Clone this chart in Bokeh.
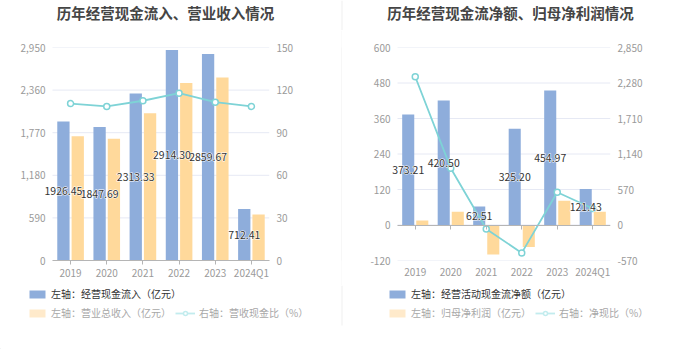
from bokeh.plotting import figure
from bokeh.models import (ColumnDataSource, Range1d, LinearAxis, FixedTicker,
                          NumeralTickFormatter, Label, Legend, LegendItem, BoxAnnotation)
from bokeh.layouts import row, column
from bokeh.transform import dodge
from bokeh.core.properties import value
from bokeh.embed import file_html
from bokeh.resources import INLINE

# ---------------- data ----------------
categories = ["2019", "2020", "2021", "2022", "2023", "2024Q1"]

# chart 1
title1 = "历年经营现金流入、营业收入情况"
names1 = ["左轴：经营现金流入（亿元）", "左轴：营业总收入（亿元）", "右轴：营收现金比（%）"]
cash_inflow = [1926.45, 1847.69, 2313.33, 2914.30, 2859.67, 712.41]
total_revenue = [1721, 1685, 2040, 2460, 2535, 637]
cash_revenue_ratio = [110.5, 108.5, 112.5, 117.8, 111.5, 108.5]
c1_left_ticks = [0, 590, 1180, 1770, 2360, 2950]
c1_right_ticks = [0, 30, 60, 90, 120, 150]

# chart 2
title2 = "历年经营现金流净额、归母净利润情况"
names2 = ["左轴：经营活动现金流净额（亿元）", "左轴：归母净利润（亿元）", "右轴：净现比（%）"]
op_cash_net = [373.21, 420.50, 62.51, 325.20, 454.97, 121.43]
net_profit = [15.5, 44.8, -100, -74, 82, 44.8]
net_cash_ratio = [2380, 912, -64, -448, 525, 265]
c2_left_ticks = [-120, 0, 120, 240, 360, 480, 600]
c2_right_ticks = [-570, 0, 570, 1140, 1710, 2280, 2850]

FONT = "Noto Sans CJK SC"
BLUE = "#8EADDB"
YELLOW = "#FFD99B"
YELLOW_PALE = "#FFEACB"
CYAN = "#7ED3D6"
CYAN_PALE = "#C2ECEE"
GRID = "#E6E9F4"
TICK_TXT = "#9A9A9A"
DARK = "#333333"
FADED = "#A8A8A8"
AXIS = "#B5B5B5"
DIVIDER = "#EFEFEF"
W = 680


def blank_fig(w, h):
    f = figure(width=w, height=h, x_range=Range1d(0, w), y_range=Range1d(0, h),
               x_axis_type=None, y_axis_type=None, output_backend="svg",
               toolbar_location=None, min_border=0)
    f.outline_line_color = None
    f.xgrid.visible = False
    f.ygrid.visible = False
    return f


def make_chart(bars1, bars2, ratio, lticks, rticks, width, bl, br, extra_px, px_per_cat,
               zero_axis):
    n = len(categories)
    lo, hi = -0.5, n - 0.5
    p = figure(width=width, height=255, x_range=Range1d(lo - extra_px / px_per_cat, hi),
               y_range=Range1d(lticks[0], lticks[-1]),
               output_backend="svg", toolbar_location=None,
               min_border_left=bl, min_border_right=br, min_border_top=17,
               min_border_bottom=25 if not zero_axis else 24)
    p.outline_line_color = None
    p.extra_y_ranges = {"r": Range1d(rticks[0], rticks[-1])}
    p.xgrid.visible = False
    p.ygrid.visible = False
    # horizontal grid lines limited to the category span
    p.segment(x0=lo, x1=hi, y0=lticks, y1=lticks, line_color=GRID, line_width=1)

    idx = list(range(n))
    src = ColumnDataSource(dict(
        i=idx, b1=bars1, b2=bars2, r=ratio,
        mid=[v / 2 for v in bars1],
        lbl=[f"{v:.2f}" for v in bars1]))

    p.vbar(x=dodge("i", -0.198), top="b1", width=0.34,
           source=src, fill_color=BLUE, line_color=None)
    p.vbar(x=dodge("i", 0.198), top="b2", width=0.34,
           source=src, fill_color=YELLOW, line_color=None)
    p.line(x="i", y="r", source=src, y_range_name="r", line_color=CYAN, line_width=1.8)
    p.scatter(x="i", y="r", source=src, y_range_name="r", size=6,
              fill_color="white", line_color=CYAN, line_width=1.5)
    # value labels: white halo underneath, dark text on top
    p.text(x=dodge("i", -0.198), y="mid", text="lbl", source=src,
           text_align="center", text_baseline="middle", text_font=value(FONT),
           text_font_size="10.5px", text_color="white", text_outline_color="white")
    p.text(x=dodge("i", -0.198), y="mid", text="lbl", source=src,
           text_align="center", text_baseline="middle", text_font=value(FONT),
           text_font_size="10.5px", text_color=DARK)

    # axes
    ya = p.yaxis[0]
    ya.ticker = FixedTicker(ticks=lticks)
    ya.formatter = NumeralTickFormatter(format="0,0")
    ra = LinearAxis(y_range_name="r", ticker=FixedTicker(ticks=rticks),
                    formatter=NumeralTickFormatter(format="0,0"))
    p.add_layout(ra, "right")
    for ax in (ya, ra):
        ax.axis_line_color = None
        ax.major_tick_line_color = None
        ax.minor_tick_line_color = None
        ax.major_tick_out = 0
        ax.major_tick_in = 0
        ax.major_label_text_color = TICK_TXT
        ax.major_label_text_font = FONT
        ax.major_label_text_font_size = "10px"
    ra.major_label_standoff = 7
    # left labels sit 7px left of the category span, which starts extra_px into the frame
    ya.major_label_standoff = 7 - extra_px
    xa = p.xaxis[0]
    xa.ticker = FixedTicker(ticks=idx)
    xa.major_label_overrides = {i: c for i, c in zip(idx, categories)}
    xa.minor_tick_line_color = None
    xa.major_label_text_color = TICK_TXT
    xa.major_label_text_font = FONT
    xa.major_label_text_font_size = "10px"
    xa.bounds = (lo, hi)
    if zero_axis:
        xa.axis_line_color = None
        xa.major_tick_line_color = None
        xa.major_tick_out = 0
        xa.major_tick_in = 0
        xa.major_label_standoff = 3
        za = LinearAxis(fixed_location=0, ticker=FixedTicker(ticks=idx), bounds=(lo, hi))
        za.axis_line_color = AXIS
        za.major_tick_line_color = AXIS
        za.minor_tick_line_color = None
        za.major_tick_in = 0
        za.major_tick_out = 4
        za.major_label_text_color = None
        za.major_label_text_font_size = "1px"
        p.add_layout(za, "below")
    else:
        xa.axis_line_color = AXIS
        xa.major_tick_line_color = AXIS
        xa.major_tick_in = 0
        xa.major_tick_out = 4
        xa.major_label_standoff = 0
    return p


# ---- title strip (0..30)
tf = blank_fig(W, 30)
tf.add_layout(BoxAnnotation(left=341, right=342, fill_color=DIVIDER, fill_alpha=1, line_color=None))
for tx, tt in ((165, title1), (510, title2)):
    tf.add_layout(Label(x=tx, y=18.5, text=tt, text_align="center", text_baseline="middle",
                        text_font=FONT, text_font_size="14.5px",
                        text_font_style="bold", text_color="#454545"))

# ---- charts (30..285)
p1 = make_chart(cash_inflow, total_revenue, cash_revenue_ratio,
                c1_left_ticks, c1_right_ticks, 341, 38, 72, 14, 36.17, False)
p2 = make_chart(op_cash_net, net_profit, net_cash_ratio,
                c2_left_ticks, c2_right_ticks, 338, 45, 70, 10, 35.5, True)
divider = blank_fig(1, 255)
divider.border_fill_color = DIVIDER
divider.background_fill_color = DIVIDER

# ---- legend strip (285..349)
lf = blank_fig(W, 64)
lf.add_layout(BoxAnnotation(left=341, right=342, bottom=24, fill_color=DIVIDER, fill_alpha=1,
                            line_color=None))
# legend sample glyphs (kept outside the visible range)
r1 = lf.vbar(x=[-50], top=[1], width=1, fill_color=BLUE, line_color=None)
r2 = lf.vbar(x=[-50], top=[1], width=1, fill_color=YELLOW_PALE, line_color=None)
r3 = lf.line(x=[-60, -50], y=[1, 1], line_color=CYAN_PALE, line_width=1.8)
r4 = lf.scatter(x=[-50], y=[1], size=9, fill_color="white", line_color=CYAN_PALE, line_width=1.5)
common = dict(border_line_color=None, background_fill_alpha=0, padding=0, margin=0,
              glyph_width=20, glyph_height=10, label_standoff=4, label_height=10,
              label_text_font=FONT, label_text_font_size="10px",
              orientation="horizontal")
for lx, names in ((27, names1), (387, names2)):
    lf.add_layout(Legend(items=[LegendItem(label=names[0], renderers=[r1])],
                         location=(lx, 48), label_text_color=DARK, **common), "center")
    lf.add_layout(Legend(items=[LegendItem(label=names[1], renderers=[r2]),
                                LegendItem(label=names[2], renderers=[r3, r4])],
                         location=(lx, 29), label_text_color=FADED, spacing=4, **common),
                  "center")

layout = column(tf, row(p1, divider, p2, spacing=0), lf, spacing=0)
open("out.html", "w").write(file_html(layout, INLINE))
